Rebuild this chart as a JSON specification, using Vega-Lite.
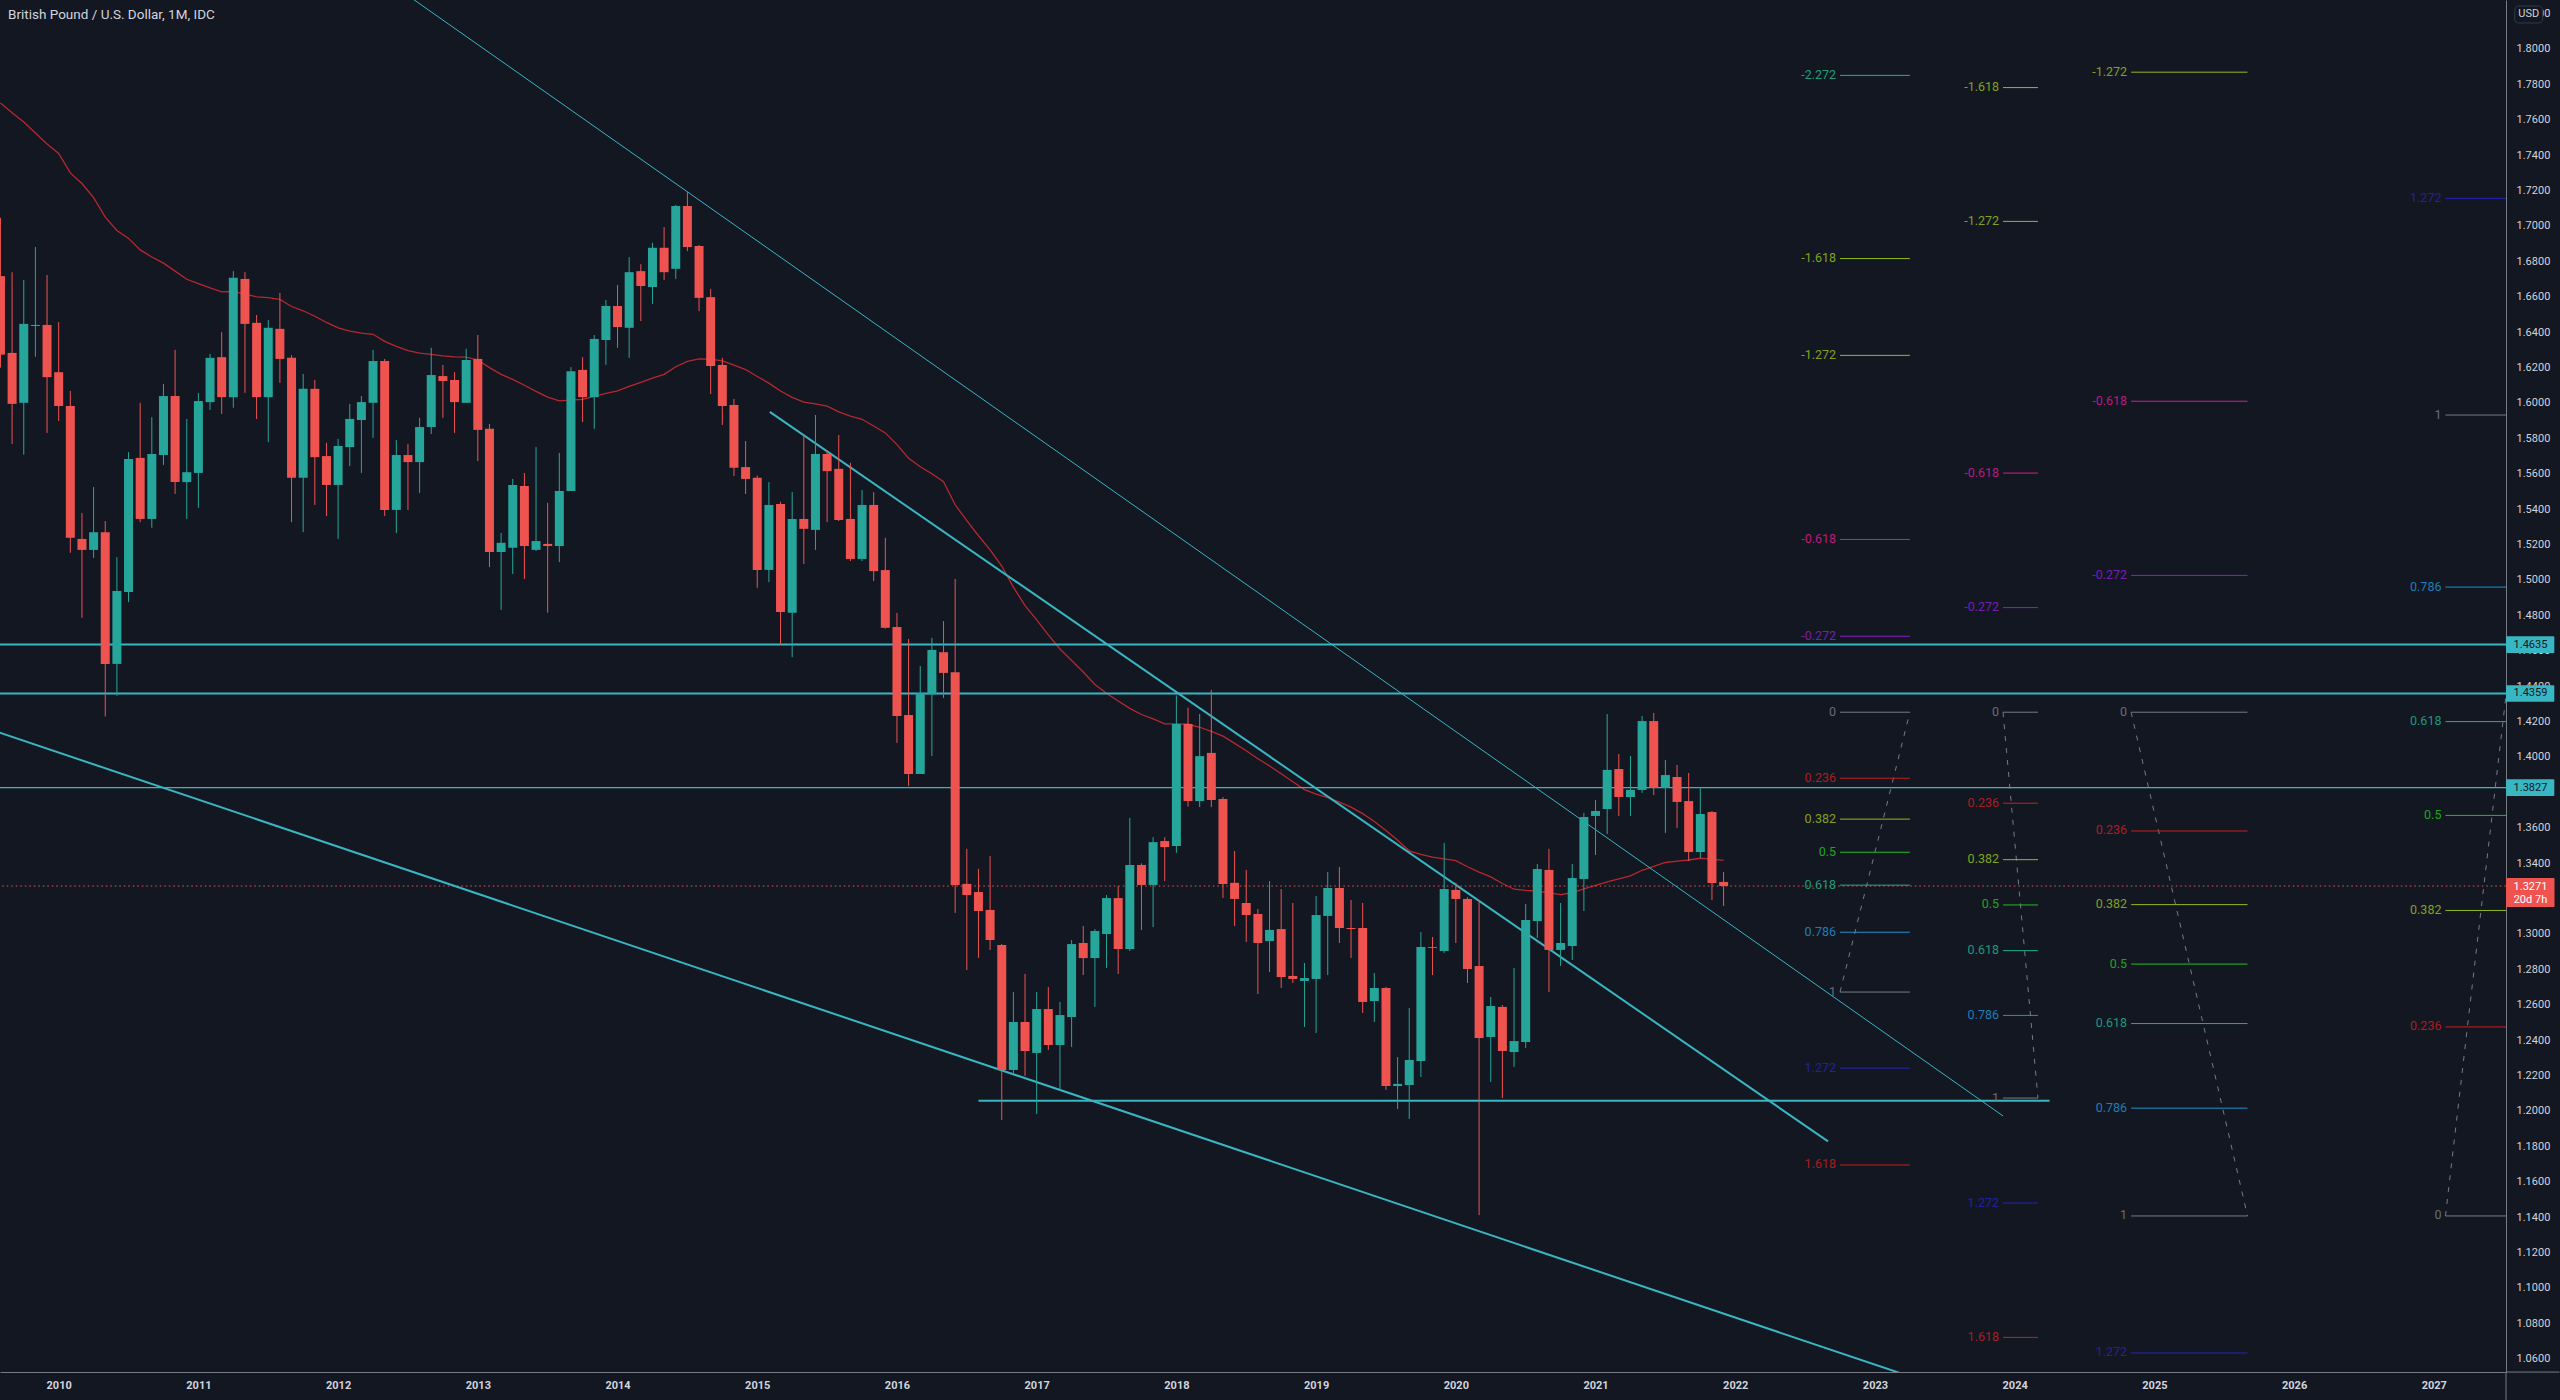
{
  "$schema": "https://vega.github.io/schema/vega-lite/v6.json",
  "width": 2506,
  "height": 1372,
  "autosize": {"type": "none", "contains": "content"},
  "padding": {"left": 0, "top": 0, "right": 54, "bottom": 28},
  "background": "#131722",
  "title": {"text": "British Pound / U.S. Dollar, 1M, IDC", "anchor": "start", "frame": "group", "orient": "top", "offset": -21, "dx": 8, "font": "Roboto", "fontSize": 13.5, "fontWeight": "normal", "color": "#d1d4dc"},
  "config": {"view": {"stroke": null}, "text": {"font": "Roboto"}},
  "datasets": {
    "candles": [
      {"bar":-5,"open":1.6717,"high":1.7046,"low":1.6200,"close":1.6273},
      {"bar":-4,"open":1.6283,"high":1.6739,"low":1.5769,"close":1.5995},
      {"bar":-3,"open":1.6001,"high":1.6695,"low":1.5708,"close":1.6447},
      {"bar":-2,"open":1.6435,"high":1.6881,"low":1.6261,"close":1.6441},
      {"bar":-1,"open":1.6441,"high":1.6723,"low":1.5831,"close":1.6146},
      {"bar":0,"open":1.6174,"high":1.6457,"low":1.5898,"close":1.5983},
      {"bar":1,"open":1.5983,"high":1.6068,"low":1.5154,"close":1.5238},
      {"bar":2,"open":1.5232,"high":1.5379,"low":1.4786,"close":1.5170},
      {"bar":3,"open":1.5170,"high":1.5525,"low":1.5125,"close":1.5270},
      {"bar":4,"open":1.5270,"high":1.5333,"low":1.4229,"close":1.4526},
      {"bar":5,"open":1.4526,"high":1.5129,"low":1.4346,"close":1.4938},
      {"bar":6,"open":1.4932,"high":1.5722,"low":1.4875,"close":1.5684},
      {"bar":7,"open":1.5690,"high":1.6001,"low":1.5327,"close":1.5345},
      {"bar":8,"open":1.5345,"high":1.5920,"low":1.5295,"close":1.5712},
      {"bar":9,"open":1.5706,"high":1.6108,"low":1.5650,"close":1.6039},
      {"bar":10,"open":1.6039,"high":1.6300,"low":1.5486,"close":1.5553},
      {"bar":11,"open":1.5553,"high":1.5910,"low":1.5345,"close":1.5609},
      {"bar":12,"open":1.5605,"high":1.6057,"low":1.5408,"close":1.6011},
      {"bar":13,"open":1.6005,"high":1.6277,"low":1.5961,"close":1.6255},
      {"bar":14,"open":1.6259,"high":1.6400,"low":1.5938,"close":1.6033},
      {"bar":15,"open":1.6033,"high":1.6745,"low":1.5973,"close":1.6707},
      {"bar":16,"open":1.6701,"high":1.6739,"low":1.6057,"close":1.6447},
      {"bar":17,"open":1.6453,"high":1.6497,"low":1.5910,"close":1.6033},
      {"bar":18,"open":1.6033,"high":1.6469,"low":1.5779,"close":1.6425},
      {"bar":19,"open":1.6419,"high":1.6622,"low":1.6114,"close":1.6249},
      {"bar":20,"open":1.6255,"high":1.6270,"low":1.5327,"close":1.5577},
      {"bar":21,"open":1.5577,"high":1.6164,"low":1.5270,"close":1.6080},
      {"bar":22,"open":1.6080,"high":1.6130,"low":1.5424,"close":1.5694},
      {"bar":23,"open":1.5700,"high":1.5775,"low":1.5361,"close":1.5537},
      {"bar":24,"open":1.5537,"high":1.5797,"low":1.5232,"close":1.5757},
      {"bar":25,"open":1.5751,"high":1.5995,"low":1.5644,"close":1.5910},
      {"bar":26,"open":1.5904,"high":1.6039,"low":1.5605,"close":1.6005},
      {"bar":27,"open":1.6001,"high":1.6300,"low":1.5803,"close":1.6237},
      {"bar":28,"open":1.6237,"high":1.6249,"low":1.5361,"close":1.5396},
      {"bar":29,"open":1.5396,"high":1.5791,"low":1.5266,"close":1.5706},
      {"bar":30,"open":1.5706,"high":1.5769,"low":1.5396,"close":1.5666},
      {"bar":31,"open":1.5666,"high":1.5916,"low":1.5492,"close":1.5864},
      {"bar":32,"open":1.5864,"high":1.6312,"low":1.5825,"close":1.6158},
      {"bar":33,"open":1.6152,"high":1.6215,"low":1.5916,"close":1.6124},
      {"bar":34,"open":1.6130,"high":1.6174,"low":1.5831,"close":1.6005},
      {"bar":35,"open":1.6001,"high":1.6306,"low":1.6001,"close":1.6243},
      {"bar":36,"open":1.6249,"high":1.6384,"low":1.5672,"close":1.5848},
      {"bar":37,"open":1.5854,"high":1.5882,"low":1.5073,"close":1.5158},
      {"bar":38,"open":1.5158,"high":1.5266,"low":1.4831,"close":1.5210},
      {"bar":39,"open":1.5182,"high":1.5571,"low":1.5034,"close":1.5537},
      {"bar":40,"open":1.5531,"high":1.5605,"low":1.5006,"close":1.5192},
      {"bar":41,"open":1.5170,"high":1.5751,"low":1.5164,"close":1.5220},
      {"bar":42,"open":1.5204,"high":1.5436,"low":1.4815,"close":1.5192},
      {"bar":43,"open":1.5192,"high":1.5718,"low":1.5101,"close":1.5503},
      {"bar":44,"open":1.5503,"high":1.6203,"low":1.5503,"close":1.6180},
      {"bar":45,"open":1.6187,"high":1.6259,"low":1.5892,"close":1.6033},
      {"bar":46,"open":1.6033,"high":1.6384,"low":1.5854,"close":1.6362},
      {"bar":47,"open":1.6356,"high":1.6582,"low":1.6215,"close":1.6548},
      {"bar":48,"open":1.6548,"high":1.6667,"low":1.6312,"close":1.6429},
      {"bar":49,"open":1.6425,"high":1.6824,"low":1.6255,"close":1.6739},
      {"bar":50,"open":1.6745,"high":1.6784,"low":1.6463,"close":1.6661},
      {"bar":51,"open":1.6655,"high":1.6905,"low":1.6560,"close":1.6877},
      {"bar":52,"open":1.6877,"high":1.6994,"low":1.6695,"close":1.6739},
      {"bar":53,"open":1.6758,"high":1.7119,"low":1.6701,"close":1.7113},
      {"bar":54,"open":1.7113,"high":1.7191,"low":1.6858,"close":1.6881},
      {"bar":55,"open":1.6887,"high":1.6893,"low":1.6519,"close":1.6594},
      {"bar":56,"open":1.6598,"high":1.6645,"low":1.6051,"close":1.6209},
      {"bar":57,"open":1.6215,"high":1.6255,"low":1.5876,"close":1.5983},
      {"bar":58,"open":1.5989,"high":1.6023,"low":1.5587,"close":1.5634},
      {"bar":59,"open":1.5638,"high":1.5785,"low":1.5486,"close":1.5571},
      {"bar":60,"open":1.5577,"high":1.5590,"low":1.4956,"close":1.5057},
      {"bar":61,"open":1.5057,"high":1.5553,"low":1.4988,"close":1.5424},
      {"bar":62,"open":1.5430,"high":1.5442,"low":1.4635,"close":1.4819},
      {"bar":63,"open":1.4815,"high":1.5497,"low":1.4564,"close":1.5345},
      {"bar":64,"open":1.5345,"high":1.5819,"low":1.5091,"close":1.5289},
      {"bar":65,"open":1.5283,"high":1.5932,"low":1.5170,"close":1.5712},
      {"bar":66,"open":1.5712,"high":1.5734,"low":1.5327,"close":1.5615},
      {"bar":67,"open":1.5628,"high":1.5819,"low":1.5333,"close":1.5339},
      {"bar":68,"open":1.5345,"high":1.5662,"low":1.5107,"close":1.5119},
      {"bar":69,"open":1.5119,"high":1.5508,"low":1.5107,"close":1.5424},
      {"bar":70,"open":1.5424,"high":1.5496,"low":1.4994,"close":1.5050},
      {"bar":71,"open":1.5056,"high":1.5238,"low":1.4725,"close":1.4730},
      {"bar":72,"open":1.4734,"high":1.4814,"low":1.4080,"close":1.4231},
      {"bar":73,"open":1.4237,"high":1.4667,"low":1.3836,"close":1.3904},
      {"bar":74,"open":1.3904,"high":1.4514,"low":1.3904,"close":1.4362},
      {"bar":75,"open":1.4354,"high":1.4673,"low":1.4005,"close":1.4605},
      {"bar":76,"open":1.4592,"high":1.4768,"low":1.4334,"close":1.4475},
      {"bar":77,"open":1.4479,"high":1.5006,"low":1.3119,"close":1.3277},
      {"bar":78,"open":1.3283,"high":1.3481,"low":1.2797,"close":1.3220},
      {"bar":79,"open":1.3237,"high":1.3368,"low":1.2865,"close":1.3130},
      {"bar":80,"open":1.3136,"high":1.3440,"low":1.2910,"close":1.2966},
      {"bar":81,"open":1.2938,"high":1.2944,"low":1.1949,"close":1.2232},
      {"bar":82,"open":1.2232,"high":1.2672,"low":1.2209,"close":1.2503},
      {"bar":83,"open":1.2503,"high":1.2774,"low":1.2198,"close":1.2339},
      {"bar":84,"open":1.2328,"high":1.2672,"low":1.1983,"close":1.2576},
      {"bar":85,"open":1.2576,"high":1.2701,"low":1.2345,"close":1.2373},
      {"bar":86,"open":1.2373,"high":1.2616,"low":1.2119,"close":1.2542},
      {"bar":87,"open":1.2531,"high":1.2966,"low":1.2362,"close":1.2943},
      {"bar":88,"open":1.2949,"high":1.3045,"low":1.2768,"close":1.2864},
      {"bar":89,"open":1.2864,"high":1.3028,"low":1.2588,"close":1.3017},
      {"bar":90,"open":1.3000,"high":1.3220,"low":1.2808,"close":1.3203},
      {"bar":91,"open":1.3203,"high":1.3271,"low":1.2774,"close":1.2915},
      {"bar":92,"open":1.2915,"high":1.3656,"low":1.2904,"close":1.3390},
      {"bar":93,"open":1.3390,"high":1.3399,"low":1.3023,"close":1.3277},
      {"bar":94,"open":1.3277,"high":1.3547,"low":1.3039,"close":1.3519},
      {"bar":95,"open":1.3525,"high":1.3547,"low":1.3299,"close":1.3491},
      {"bar":96,"open":1.3497,"high":1.4348,"low":1.3458,"close":1.4187},
      {"bar":97,"open":1.4187,"high":1.4278,"low":1.3720,"close":1.3751},
      {"bar":98,"open":1.3751,"high":1.4243,"low":1.3717,"close":1.4005},
      {"bar":99,"open":1.4023,"high":1.4379,"low":1.3717,"close":1.3757},
      {"bar":100,"open":1.3763,"high":1.3773,"low":1.3204,"close":1.3283},
      {"bar":101,"open":1.3289,"high":1.3469,"low":1.3045,"close":1.3198},
      {"bar":102,"open":1.3175,"high":1.3362,"low":1.2955,"close":1.3107},
      {"bar":103,"open":1.3113,"high":1.3141,"low":1.2661,"close":1.2949},
      {"bar":104,"open":1.2960,"high":1.3299,"low":1.2785,"close":1.3023},
      {"bar":105,"open":1.3028,"high":1.3254,"low":1.2695,"close":1.2757},
      {"bar":106,"open":1.2763,"high":1.3175,"low":1.2723,"close":1.2746},
      {"bar":107,"open":1.2735,"high":1.2836,"low":1.2475,"close":1.2751},
      {"bar":108,"open":1.2746,"high":1.3215,"low":1.2441,"close":1.3107},
      {"bar":109,"open":1.3102,"high":1.3350,"low":1.2768,"close":1.3260},
      {"bar":110,"open":1.3260,"high":1.3379,"low":1.2949,"close":1.3034},
      {"bar":111,"open":1.3034,"high":1.3192,"low":1.2864,"close":1.3028},
      {"bar":112,"open":1.3034,"high":1.3175,"low":1.2554,"close":1.2616},
      {"bar":113,"open":1.2621,"high":1.2780,"low":1.2503,"close":1.2695},
      {"bar":114,"open":1.2695,"high":1.2701,"low":1.2119,"close":1.2141},
      {"bar":115,"open":1.2141,"high":1.2305,"low":1.2011,"close":1.2153},
      {"bar":116,"open":1.2147,"high":1.2582,"low":1.1955,"close":1.2288},
      {"bar":117,"open":1.2283,"high":1.3011,"low":1.2192,"close":1.2926},
      {"bar":118,"open":1.2926,"high":1.2983,"low":1.2768,"close":1.2921},
      {"bar":119,"open":1.2904,"high":1.3515,"low":1.2893,"close":1.3254},
      {"bar":120,"open":1.3249,"high":1.3290,"low":1.2949,"close":1.3198},
      {"bar":121,"open":1.3198,"high":1.3208,"low":1.2723,"close":1.2802},
      {"bar":122,"open":1.2819,"high":1.3192,"low":1.1412,"close":1.2412},
      {"bar":123,"open":1.2418,"high":1.2644,"low":1.2164,"close":1.2593},
      {"bar":124,"open":1.2588,"high":1.2599,"low":1.2073,"close":1.2339},
      {"bar":125,"open":1.2333,"high":1.2808,"low":1.2249,"close":1.2395},
      {"bar":126,"open":1.2390,"high":1.3170,"low":1.2356,"close":1.3079},
      {"bar":127,"open":1.3073,"high":1.3395,"low":1.2977,"close":1.3367},
      {"bar":128,"open":1.3362,"high":1.3481,"low":1.2672,"close":1.2910},
      {"bar":129,"open":1.2910,"high":1.3175,"low":1.2819,"close":1.2949},
      {"bar":130,"open":1.2932,"high":1.3395,"low":1.2853,"close":1.3316},
      {"bar":131,"open":1.3311,"high":1.3684,"low":1.3130,"close":1.3661},
      {"bar":132,"open":1.3667,"high":1.3757,"low":1.3446,"close":1.3695},
      {"bar":133,"open":1.3706,"high":1.4243,"low":1.3565,"close":1.3927},
      {"bar":134,"open":1.3932,"high":1.4017,"low":1.3667,"close":1.3774},
      {"bar":135,"open":1.3774,"high":1.4006,"low":1.3667,"close":1.3814},
      {"bar":136,"open":1.3814,"high":1.4232,"low":1.3797,"close":1.4203},
      {"bar":137,"open":1.4203,"high":1.4249,"low":1.3785,"close":1.3825},
      {"bar":138,"open":1.3825,"high":1.3983,"low":1.3571,"close":1.3898},
      {"bar":139,"open":1.3887,"high":1.3955,"low":1.3599,"close":1.3746},
      {"bar":140,"open":1.3751,"high":1.3910,"low":1.3412,"close":1.3463},
      {"bar":141,"open":1.3463,"high":1.3830,"low":1.3429,"close":1.3678},
      {"bar":142,"open":1.3689,"high":1.3695,"low":1.3192,"close":1.3288},
      {"bar":143,"open":1.3294,"high":1.3350,"low":1.3158,"close":1.3271}
    ],
    "movingAverage": [
      {"bar":-5,"price":1.7695},{"bar":-4,"price":1.7640},{"bar":-3,"price":1.7587},{"bar":-2,"price":1.7525},{"bar":-1,"price":1.7463},{"bar":0,"price":1.7410},{"bar":1,"price":1.7300},{"bar":2,"price":1.7240},{"bar":3,"price":1.7160},{"bar":4,"price":1.7050},
      {"bar":5,"price":1.6975},{"bar":6,"price":1.6930},{"bar":7,"price":1.6865},{"bar":8,"price":1.6825},{"bar":9,"price":1.6790},{"bar":10,"price":1.6745},{"bar":11,"price":1.6699},{"bar":12,"price":1.6675},{"bar":13,"price":1.6650},{"bar":14,"price":1.6628},
      {"bar":15,"price":1.6630},{"bar":16,"price":1.6615},{"bar":17,"price":1.6600},{"bar":18,"price":1.6595},{"bar":19,"price":1.6585},{"bar":20,"price":1.6545},{"bar":21,"price":1.6521},{"bar":22,"price":1.6490},{"bar":23,"price":1.6455},{"bar":24,"price":1.6425},
      {"bar":25,"price":1.6406},{"bar":26,"price":1.6395},{"bar":27,"price":1.6388},{"bar":28,"price":1.6348},{"bar":29,"price":1.6320},{"bar":30,"price":1.6296},{"bar":31,"price":1.6282},{"bar":32,"price":1.6275},{"bar":33,"price":1.6266},{"bar":34,"price":1.6261},
      {"bar":35,"price":1.6259},{"bar":36,"price":1.6243},{"bar":37,"price":1.6200},{"bar":38,"price":1.6162},{"bar":39,"price":1.6133},{"bar":40,"price":1.6100},{"bar":41,"price":1.6066},{"bar":42,"price":1.6033},{"bar":43,"price":1.6012},{"bar":44,"price":1.6016},
      {"bar":45,"price":1.6021},{"bar":46,"price":1.6038},{"bar":47,"price":1.6054},{"bar":48,"price":1.6068},{"bar":49,"price":1.6094},{"bar":50,"price":1.6116},{"bar":51,"price":1.6140},{"bar":52,"price":1.6162},{"bar":53,"price":1.6205},{"bar":54,"price":1.6235},
      {"bar":55,"price":1.6249},{"bar":56,"price":1.6248},{"bar":57,"price":1.6238},{"bar":58,"price":1.6214},{"bar":59,"price":1.6189},{"bar":60,"price":1.6150},{"bar":61,"price":1.6112},{"bar":62,"price":1.6068},{"bar":63,"price":1.6032},{"bar":64,"price":1.6005},
      {"bar":65,"price":1.5995},{"bar":66,"price":1.5982},{"bar":67,"price":1.5950},{"bar":68,"price":1.5926},{"bar":69,"price":1.5908},{"bar":70,"price":1.5870},{"bar":71,"price":1.5831},{"bar":72,"price":1.5765},{"bar":73,"price":1.5688},{"bar":74,"price":1.5640},
      {"bar":75,"price":1.5600},{"bar":76,"price":1.5555},{"bar":77,"price":1.5425},{"bar":78,"price":1.5335},{"bar":79,"price":1.5250},{"bar":80,"price":1.5170},{"bar":81,"price":1.5079},{"bar":82,"price":1.4960},{"bar":83,"price":1.4855},{"bar":84,"price":1.4775},
      {"bar":85,"price":1.4690},{"bar":86,"price":1.4610},{"bar":87,"price":1.4545},{"bar":88,"price":1.4480},{"bar":89,"price":1.4410},{"bar":90,"price":1.4360},{"bar":91,"price":1.4316},{"bar":92,"price":1.4275},{"bar":93,"price":1.4240},{"bar":94,"price":1.4215},
      {"bar":95,"price":1.4187},{"bar":96,"price":1.4187},{"bar":97,"price":1.4185},{"bar":98,"price":1.4168},{"bar":99,"price":1.4145},{"bar":100,"price":1.4118},{"bar":101,"price":1.4077},{"bar":102,"price":1.4035},{"bar":103,"price":1.3990},{"bar":104,"price":1.3950},
      {"bar":105,"price":1.3905},{"bar":106,"price":1.3860},{"bar":107,"price":1.3816},{"bar":108,"price":1.3790},{"bar":109,"price":1.3770},{"bar":110,"price":1.3745},{"bar":111,"price":1.3717},{"bar":112,"price":1.3680},{"bar":113,"price":1.3636},{"bar":114,"price":1.3585},
      {"bar":115,"price":1.3530},{"bar":116,"price":1.3470},{"bar":117,"price":1.3450},{"bar":118,"price":1.3434},{"bar":119,"price":1.3425},{"bar":120,"price":1.3414},{"bar":121,"price":1.3380},{"bar":122,"price":1.3350},{"bar":123,"price":1.3323},{"bar":124,"price":1.3285},
      {"bar":125,"price":1.3253},{"bar":126,"price":1.3247},{"bar":127,"price":1.3243},{"bar":128,"price":1.3232},{"bar":129,"price":1.3222},{"bar":130,"price":1.3233},{"bar":131,"price":1.3255},{"bar":132,"price":1.3275},{"bar":133,"price":1.3295},{"bar":134,"price":1.3312},
      {"bar":135,"price":1.3329},{"bar":136,"price":1.3360},{"bar":137,"price":1.3382},{"bar":138,"price":1.3404},{"bar":139,"price":1.3412},{"bar":140,"price":1.3418},{"bar":141,"price":1.3428},{"bar":142,"price":1.3423},{"bar":143,"price":1.3416}
    ],
    "thickTrends": [
      {"line":"mid","bar":61.08,"price":1.5950},{"line":"mid","bar":151.97,"price":1.1828},
      {"line":"low","bar":-6,"price":1.4158},{"line":"low","bar":163,"price":1.0412}
    ],
    "thinTrend": [{"bar":30,"price":1.8302},{"bar":167,"price":1.1972}],
    "thickLevels": [
      {"bar":-6,"bar2":211,"price":1.4635},
      {"bar":-6,"bar2":211,"price":1.4359},
      {"bar":79,"bar2":171,"price":1.2058}
    ],
    "thinLevels": [{"bar":-6,"bar2":211,"price":1.3827}],
    "lastPrice": [{"bar":-6,"bar2":211,"price":1.3271}],
    "fibDiagonals": [
      {"tool":"a","bar":159,"price":1.4253},{"tool":"a","bar":153,"price":1.2672},
      {"tool":"b","bar":167,"price":1.4253},{"tool":"b","bar":170,"price":1.2073},
      {"tool":"c","bar":178,"price":1.4253},{"tool":"c","bar":188,"price":1.1407},
      {"tool":"d","bar":205,"price":1.1407},{"tool":"d","bar":213,"price":1.5932}
    ],
    "fibLevels": [
      {"level":"-2.272","bar":153,"bar2":159,"price":1.7851},
      {"level":"-1.618","bar":153,"bar2":159,"price":1.6816},
      {"level":"-1.272","bar":153,"bar2":159,"price":1.6269},
      {"level":"-0.618","bar":153,"bar2":159,"price":1.5229},
      {"level":"-0.272","bar":153,"bar2":159,"price":1.4682},
      {"level":"0","bar":153,"bar2":159,"price":1.4253},
      {"level":"0.236","bar":153,"bar2":159,"price":1.3880},
      {"level":"0.382","bar":153,"bar2":159,"price":1.3649},
      {"level":"0.5","bar":153,"bar2":159,"price":1.3462},
      {"level":"0.618","bar":153,"bar2":159,"price":1.3276},
      {"level":"0.786","bar":153,"bar2":159,"price":1.3010},
      {"level":"1","bar":153,"bar2":159,"price":1.2672},
      {"level":"1.272","bar":153,"bar2":159,"price":1.2242},
      {"level":"1.618","bar":153,"bar2":159,"price":1.1695},
      {"level":"-1.618","bar":167,"bar2":170,"price":1.7782},
      {"level":"-1.272","bar":167,"bar2":170,"price":1.7026},
      {"level":"-0.618","bar":167,"bar2":170,"price":1.5604},
      {"level":"-0.272","bar":167,"bar2":170,"price":1.4844},
      {"level":"0","bar":167,"bar2":170,"price":1.4253},
      {"level":"0.236","bar":167,"bar2":170,"price":1.3739},
      {"level":"0.382","bar":167,"bar2":170,"price":1.3420},
      {"level":"0.5","bar":167,"bar2":170,"price":1.3164},
      {"level":"0.618","bar":167,"bar2":170,"price":1.2906},
      {"level":"0.786","bar":167,"bar2":170,"price":1.2540},
      {"level":"1","bar":167,"bar2":170,"price":1.2073},
      {"level":"1.272","bar":167,"bar2":170,"price":1.1480},
      {"level":"1.618","bar":167,"bar2":170,"price":1.0721},
      {"level":"-1.272","bar":178,"bar2":188,"price":1.7869},
      {"level":"-0.618","bar":178,"bar2":188,"price":1.6010},
      {"level":"-0.272","bar":178,"bar2":188,"price":1.5026},
      {"level":"0","bar":178,"bar2":188,"price":1.4253},
      {"level":"0.236","bar":178,"bar2":188,"price":1.3582},
      {"level":"0.382","bar":178,"bar2":188,"price":1.3166},
      {"level":"0.5","bar":178,"bar2":188,"price":1.2830},
      {"level":"0.618","bar":178,"bar2":188,"price":1.2494},
      {"level":"0.786","bar":178,"bar2":188,"price":1.2016},
      {"level":"1","bar":178,"bar2":188,"price":1.1407},
      {"level":"1.272","bar":178,"bar2":188,"price":1.0633},
      {"level":"0","bar":205,"bar2":213,"price":1.1407},
      {"level":"0.236","bar":205,"bar2":213,"price":1.2475},
      {"level":"0.382","bar":205,"bar2":213,"price":1.3133},
      {"level":"0.5","bar":205,"bar2":213,"price":1.3670},
      {"level":"0.618","bar":205,"bar2":213,"price":1.4200},
      {"level":"0.786","bar":205,"bar2":213,"price":1.4960},
      {"level":"1","bar":205,"bar2":213,"price":1.5932},
      {"level":"1.272","bar":205,"bar2":213,"price":1.7156}
    ],
    "cyanTags": [
      {"bar":210.2,"bar2":214.35,"mid":212.3,"price":1.4635,"top":1.4682,"bottom":1.4588,"label":"1.4635"},
      {"bar":210.2,"bar2":214.35,"mid":212.3,"price":1.4359,"top":1.4406,"bottom":1.4312,"label":"1.4359"},
      {"bar":210.2,"bar2":214.35,"mid":212.3,"price":1.3827,"top":1.3874,"bottom":1.3780,"label":"1.3827"}
    ],
    "countdownTag": [
      {"bar":210.2,"bar2":214.35,"mid":212.3,"top":1.3316,"bottom":1.3153,"price":1.3266,"label":"1.3271"},
      {"bar":210.2,"bar2":214.35,"mid":212.3,"top":1.3316,"bottom":1.3153,"price":1.3192,"label":"20d 7h"}
    ],
    "currencyTag": [{"bar":210.95,"bar2":213.35,"mid":212.15,"top":1.8243,"bottom":1.8147,"price":1.8197,"label":"USD"}],
    "frameEdges": [{"bar":210.2,"bar2":214.8,"low":1.0367,"high":1.0525}]
  },
  "encoding": {
    "x": {
      "field": "bar",
      "type": "quantitative",
      "title": null,
      "scale": {"domain": [-5.04, 210.2], "nice": false, "zero": false, "padding": 0},
      "axis": {
        "values": [0,12,24,36,48,60,72,84,96,108,120,132,144,156,168,180,192,204],
        "labelExpr": "'' + (2010 + datum.value / 12)",
        "labelFont": "Roboto", "labelFontSize": 11, "labelFontWeight": "bold", "labelColor": "#d1d4dc",
        "labelPadding": 7, "labelOverlap": false, "labelFlush": false, "labelBound": false,
        "tickSize": 0, "grid": false, "domainColor": "#787b86", "domainWidth": 1
      }
    },
    "y": {
      "field": "price",
      "type": "quantitative",
      "title": null,
      "scale": {"domain": [1.05254, 1.82768], "nice": false, "zero": false, "padding": 0},
      "axis": {
        "orient": "right",
        "values": [1.06,1.08,1.10,1.12,1.14,1.16,1.18,1.20,1.22,1.24,1.26,1.28,1.30,1.32,1.34,1.36,1.38,1.40,1.42,1.44,1.46,1.48,1.50,1.52,1.54,1.56,1.58,1.60,1.62,1.64,1.66,1.68,1.70,1.72,1.74,1.76,1.78,1.80,1.82],
        "format": ".4f",
        "labelFont": "Roboto", "labelFontSize": 11, "labelColor": "#d1d4dc",
        "labelPadding": 10, "labelOverlap": false, "labelBound": false, "labelFlush": false,
        "tickSize": 0, "grid": false, "domainColor": "#787b86", "domainWidth": 1
      }
    }
  },
  "layer": [
    {
      "data": {"name": "movingAverage"},
      "mark": {"type": "line", "color": "#b7282e", "strokeWidth": 1.3, "clip": true}
    },
    {
      "data": {"name": "lastPrice"},
      "mark": {"type": "rule", "color": "#ef5350", "strokeWidth": 1, "strokeDash": [1.5, 3], "clip": true},
      "encoding": {"x2": {"field": "bar2"}}
    },
    {
      "data": {"name": "thinTrend"},
      "mark": {"type": "line", "color": "#38b6c2", "strokeWidth": 1, "clip": true}
    },
    {
      "data": {"name": "thickTrends"},
      "mark": {"type": "line", "color": "#38b6c2", "strokeWidth": 2, "clip": true},
      "encoding": {"detail": {"field": "line"}}
    },
    {
      "data": {"name": "thickLevels"},
      "mark": {"type": "rule", "color": "#38b6c2", "strokeWidth": 2, "clip": true},
      "encoding": {"x2": {"field": "bar2"}}
    },
    {
      "data": {"name": "thinLevels"},
      "mark": {"type": "rule", "color": "#38b6c2", "strokeWidth": 1.3, "clip": true},
      "encoding": {"x2": {"field": "bar2"}}
    },
    {
      "data": {"name": "fibDiagonals"},
      "mark": {"type": "line", "color": "#787b86", "strokeWidth": 1, "strokeDash": [5, 7], "clip": true},
      "encoding": {"detail": {"field": "tool"}}
    },
    {
      "data": {"name": "fibLevels"},
      "mark": {"type": "rule", "strokeWidth": 1, "clip": true},
      "encoding": {
        "x2": {"field": "bar2"},
        "color": {
          "field": "level",
          "type": "nominal",
          "legend": null,
          "scale": {
            "domain": ["-2.272","-1.618","-1.272","-0.618","-0.272","0","0.236","0.382","0.5","0.618","0.786","1","1.272","1.618"],
            "range": ["#1fb58f","#93bb1f","#93bb1f","#d81b8f","#8a1fc8","#787b86","#c42020","#93bb1f","#1fbf1f","#1fb08a","#2090cf","#787b86","#2525b5","#c42020"]
          }
        }
      }
    },
    {
      "data": {"name": "fibLevels"},
      "mark": {"type": "text", "align": "right", "baseline": "middle", "dx": -4, "dy": -0.5, "fontSize": 12.5, "font": "Roboto", "opacity": 0.85},
      "encoding": {
        "text": {"field": "level"},
        "color": {"field": "level", "type": "nominal", "legend": null}
      }
    },
    {
      "data": {"name": "candles"},
      "mark": {"type": "rule", "strokeWidth": 1, "clip": true},
      "encoding": {
        "y": {"field": "low", "type": "quantitative", "title": null},
        "y2": {"field": "high"},
        "color": {"condition": {"test": "datum.close >= datum.open", "value": "#26a69a"}, "value": "#ef5350"}
      }
    },
    {
      "data": {"name": "candles"},
      "mark": {"type": "bar", "size": 9, "clip": true},
      "encoding": {
        "y": {"field": "open", "type": "quantitative", "title": null},
        "y2": {"field": "close"},
        "color": {"condition": {"test": "datum.close >= datum.open", "value": "#26a69a"}, "value": "#ef5350"}
      }
    },
    {
      "data": {"name": "frameEdges"},
      "mark": {"type": "rule", "color": "#787b86", "strokeWidth": 1, "clip": false},
      "encoding": {
        "y": {"field": "low", "type": "quantitative", "title": null},
        "y2": {"field": "high"}
      }
    },
    {
      "data": {"name": "frameEdges"},
      "mark": {"type": "rule", "color": "#787b86", "strokeWidth": 1, "clip": false},
      "encoding": {
        "x2": {"field": "bar2"},
        "y": {"field": "high", "type": "quantitative", "title": null}
      }
    },
    {
      "data": {"name": "cyanTags"},
      "mark": {"type": "rect", "color": "#38b6c2", "cornerRadius": 1, "clip": false},
      "encoding": {
        "x2": {"field": "bar2"},
        "y": {"field": "top", "type": "quantitative", "title": null},
        "y2": {"field": "bottom"}
      }
    },
    {
      "data": {"name": "cyanTags"},
      "mark": {"type": "text", "color": "#131722", "fontSize": 11, "font": "Roboto", "baseline": "middle", "clip": false},
      "encoding": {"x": {"field": "mid", "type": "quantitative", "title": null}, "text": {"field": "label"}}
    },
    {
      "data": {"name": "countdownTag"},
      "mark": {"type": "rect", "color": "#ef5350", "cornerRadius": 1, "clip": false},
      "encoding": {
        "x2": {"field": "bar2"},
        "y": {"field": "top", "type": "quantitative", "title": null},
        "y2": {"field": "bottom"}
      }
    },
    {
      "data": {"name": "countdownTag"},
      "mark": {"type": "text", "color": "#ffffff", "fontSize": 11, "font": "Roboto", "baseline": "middle", "clip": false},
      "encoding": {"x": {"field": "mid", "type": "quantitative", "title": null}, "text": {"field": "label"}}
    },
    {
      "data": {"name": "currencyTag"},
      "mark": {"type": "rect", "fill": "#131722", "stroke": "#363a45", "strokeWidth": 1, "cornerRadius": 4, "clip": false},
      "encoding": {
        "x2": {"field": "bar2"},
        "y": {"field": "top", "type": "quantitative", "title": null},
        "y2": {"field": "bottom"}
      }
    },
    {
      "data": {"name": "currencyTag"},
      "mark": {"type": "text", "color": "#d1d4dc", "fontSize": 11, "font": "Roboto", "baseline": "middle", "clip": false},
      "encoding": {"x": {"field": "mid", "type": "quantitative", "title": null}, "text": {"field": "label"}}
    }
  ]
}
